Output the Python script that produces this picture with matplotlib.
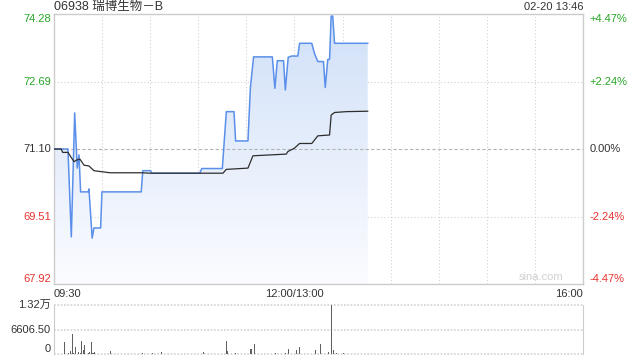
import numpy as np
import matplotlib
matplotlib.use('Agg')
import matplotlib.pyplot as plt
from matplotlib.colors import LinearSegmentedColormap

plt.rcParams['font.family'] = ['Liberation Sans', 'Noto Sans CJK SC', 'DejaVu Sans']

# session minutes: 0 = 09:30, 150 = 12:00/13:00, 330 = 16:00
prev_close = 71.10

price_min = [0, 8.7, 10.8, 12.9, 14.5, 15.6, 16.6, 21.4, 21.8, 23.8, 24.9, 29.1, 29.9,
             54.4, 55.4, 60.2, 61, 90.9, 92.2, 105, 107.5, 112.3, 113.3, 121, 122.5,
             124.5, 136.2, 137.8, 139.3, 143.2, 144.3, 146.1, 148.2, 152.1, 153.2,
             160.8, 162.5, 164.6, 168.1, 169.2, 170.8, 171.9, 172.9, 173.9, 175, 195.7]
price = [71.10, 71.10, 69.03, 71.95, 70.65, 70.96, 70.09, 70.09, 70.16, 69.00, 69.24, 69.24, 70.09,
         70.09, 70.59, 70.59, 70.53, 70.53, 70.64, 70.64, 71.98, 71.98, 71.29, 71.29, 72.54,
         73.27, 73.27, 72.53, 73.18, 73.18, 72.49, 73.26, 73.29, 73.29, 73.59,
         73.59, 73.35, 73.16, 73.16, 72.55, 73.21, 73.21, 74.23, 74.23, 73.59, 73.59]

avg_min = [0, 4.5, 5.4, 8.7, 12.5, 14, 16.2, 18.7, 21.8, 24.9, 28.6, 35, 54.8, 60,
           105.4, 107.5, 121, 124.1, 144.9, 145.9, 150, 153.2, 160.8, 162.5, 164.6,
           171.9, 172.9, 175, 182.3, 195.7]
avg_price = [71.10, 71.10, 71.02, 71.02, 70.80, 70.84, 70.86, 70.72, 70.70, 70.59, 70.57, 70.54, 70.54, 70.53,
             70.53, 70.62, 70.65, 70.94, 70.98, 71.04, 71.12, 71.23, 71.23, 71.31, 71.41,
             71.43, 71.90, 71.96, 71.98, 71.99]

volume = [120, 150, 200, 150, 180, 160, 3300, 200, 180, 220, 900, 5450, 250, 1970, 200, 630, 220, 3570, 1160, 2500,
          200, 250, 630, 3300, 450, 630, 200, 180, 150, 200, 160, 180, 150, 200, 170, 900, 180, 150, 160, 200,
          150, 180, 200, 150, 160, 180, 150, 170, 200, 150, 160, 150, 180, 200, 150, 450, 170, 150, 160, 180,
          200, 450, 150, 160, 180, 200, 150, 630, 170, 160, 150, 180, 200, 150, 160, 180, 150, 170, 200, 160,
          150, 180, 160, 150, 200, 170, 150, 160, 180, 150, 200, 160, 150, 630, 180, 160, 150, 200, 170, 160,
          150, 180, 200, 160, 150, 170, 200, 3570, 900, 180, 160, 150, 200, 450, 170, 160, 180, 150, 160, 200,
          170, 180, 1430, 1430, 200, 2770, 180, 160, 150, 200, 170, 160, 150, 180, 200, 160, 150, 170, 450, 160,
          150, 180, 200, 160, 450, 170, 1430, 160, 150, 200, 180, 1160, 170, 1970, 160, 150, 180, 200, 160, 170,
          150, 180, 200, 1160, 160, 150, 2770, 180, 170, 160, 200, 630, 180, 13213, 1160, 200, 450, 180, 160, 150,
          450, 170, 160, 200, 150, 180, 160, 170, 150, 200, 160, 180, 150, 170, 160, 200]

price_ticks = [67.92, 69.51, 71.10, 72.69, 74.28]
pct_labels = ['-4.47%', '-2.24%', '0.00%', '+2.24%', '+4.47%']
tick_colors = ['#e8322e', '#e8322e', '#333333', '#26a626', '#26a626']
vol_ticks = [0, 6606.5, 13213]
vol_labels = ['0', '6606.50', '1.32万']

grid_c = '#d2d2d2'
frame_c = '#cccccc'
fs = 8

fig = plt.figure(figsize=(6.4, 3.6), dpi=100)
ax = fig.add_axes([54/640, 1 - 284/360, 529/640, 270/360])

# gradient area under the price line
fill = ax.fill_between(price_min, price, price_ticks[0], facecolor='none', edgecolor='none')
grad = np.linspace(0, 1, 256).reshape(-1, 1)
cmap = LinearSegmentedColormap.from_list('g', ['#fbfcff', '#d0e0f8'])
img = ax.imshow(grad, cmap=cmap, aspect='auto', origin='lower',
                extent=[0, 330, price_ticks[0], price_ticks[-1]], zorder=1)
img.set_clip_path(fill.get_paths()[0], transform=ax.transData)

ax.plot(price_min, price, color='#5a8fea', lw=1.1, zorder=3)
ax.plot(avg_min, avg_price, color='#2e2e2e', lw=0.9, zorder=4)

ax.set_xlim(0, 330)
ax.set_ylim(price_ticks[0], price_ticks[-1])

for x in range(30, 330, 30):
    ax.axvline(x, color=grid_c, ls=(0, (1, 2)), lw=0.8, zorder=0)
for y in [69.51, 72.69]:
    ax.axhline(y, color=grid_c, ls=(0, (1, 2)), lw=0.8, zorder=0)
ax.axhline(prev_close, color='#b4b4b4', ls=(0, (3, 2)), lw=0.8, zorder=2)

ax.set_xticks([])
ax.set_yticks([])
for s in ax.spines.values():
    s.set_color(frame_c)
    s.set_linewidth(1)

ytr = ax.get_yaxis_transform()
for i, (v, lab, c) in enumerate(zip(price_ticks, pct_labels, tick_colors)):
    va = 'bottom' if i == 0 else ('top' if i == len(price_ticks) - 1 else 'center')
    ax.text(-0.006, v, f'{v:.2f}', transform=ytr, ha='right', va=va, color=c, fontsize=fs)
    ax.text(1.012, v, lab, transform=ytr, ha='left', va=va, color=c, fontsize=fs)

xtr = ax.get_xaxis_transform()
ax.text(0, -0.018, '09:30', transform=xtr, ha='left', va='top', fontsize=fs, color='#333333')
ax.text(150, -0.018, '12:00/13:00', transform=xtr, ha='center', va='top', fontsize=fs, color='#333333')
ax.text(330, -0.018, '16:00', transform=xtr, ha='right', va='top', fontsize=fs, color='#333333')

ax.text(0.92, 0.025, 'sina.com', transform=ax.transAxes, ha='center', va='center',
        fontsize=fs, color='#d0d0d0')

fig.text(54/640, 1 - 7/360, '06938 瑞博生物－B', ha='left', va='center', fontsize=9, color='#333333')
fig.text(583/640, 1 - 7.5/360, '02-20 13:46', ha='right', va='center', fontsize=fs, color='#333333')

# volume panel
axv = fig.add_axes([54/640, 1 - 354.3/360, 529/640, 49.3/360])
axv.bar(np.arange(len(volume)), volume, width=0.65, color='#606060', align='edge', zorder=3)
axv.set_xlim(0, 330)
axv.set_ylim(0, vol_ticks[-1])
for v in vol_ticks:
    axv.axhline(v, color=grid_c, ls=(0, (1, 1)), lw=1.2, zorder=1, clip_on=False)
axv.set_xticks([])
axv.set_yticks([])
for k in ['top', 'bottom']:
    axv.spines[k].set_visible(False)
for k in ['left', 'right']:
    axv.spines[k].set_color(frame_c)
vtr = axv.get_yaxis_transform()
for v, lab in zip(vol_ticks, vol_labels):
    va = 'bottom' if v == 0 else 'center'
    axv.text(-0.006, v, lab, transform=vtr, ha='right', va=va, fontsize=fs, color='#333333')

fig.savefig('out.png', dpi=100)
